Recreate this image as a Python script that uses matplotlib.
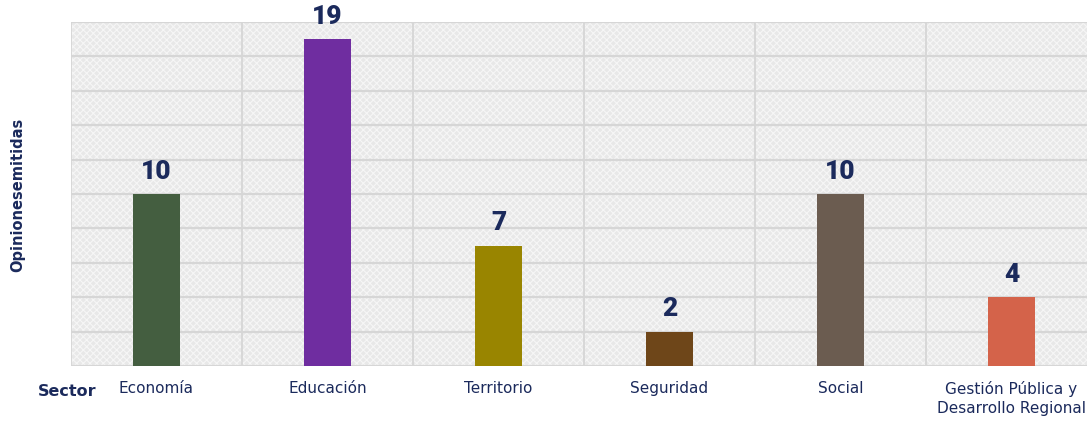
import matplotlib.pyplot as plt
from matplotlib.patches import Rectangle

sectors = ["Economía", "Educación", "Territorio", "Seguridad", "Social",
           "Gestión Pública y\nDesarrollo Regional"]
opinions = [10, 19, 7, 2, 10, 4]
bar_colors = ["#445E40", "#6F2DA0", "#998500", "#6E4619", "#6B5C50", "#D4634A"]

navy = "#1B2A5C"
plt.rcParams['hatch.linewidth'] = 0.8

fig = plt.figure(figsize=(10.87, 4.21), dpi=100)
# plot area runs past the right edge on purpose
ax = fig.add_axes([71 / 1087, 55 / 421, 1026 / 1087, 344 / 421])

x = list(range(len(sectors)))
ax.set_xlim(-0.5, len(sectors) - 0.5)
ax.set_ylim(0, 20)

# textured background
ax.set_facecolor("#E8E8E8")
ax.add_patch(Rectangle((0, 0), 1, 1, transform=ax.transAxes, facecolor="none",
                       edgecolor="#F6F6F6", hatch="xxxxx", linewidth=0, zorder=0))

for yv in range(0, 21, 2):
    ax.axhline(yv, color="#D6D6D6", linewidth=1.6, zorder=1)
for xv in range(len(sectors) + 1):
    ax.axvline(xv - 0.5, color="#D6D6D6", linewidth=1.3, zorder=1)

ax.bar(x, opinions, width=0.27, color=bar_colors, zorder=3)

for xi, v in zip(x, opinions):
    ax.text(xi, v + 0.6, str(v), ha="center", va="bottom", fontsize=19,
            fontweight="black", color=navy, family=["Roboto", "DejaVu Sans"])

ax.set_xticks(x)
ax.set_xticklabels(sectors, fontsize=11, color=navy, family="DejaVu Sans",
                   linespacing=1.35)
ax.tick_params(axis="x", length=0, pad=11)
ax.set_yticks([])
for s in ax.spines.values():
    s.set_visible(False)

fig.text(38 / 1087, 1 - 392 / 421, "Sector", fontsize=11.5, fontweight="bold",
         color=navy, va="center", ha="left", family="DejaVu Sans")
fig.text(18 / 1087, 1 - 195 / 421, "Opinionesemitidas", rotation=90, fontsize=10.5,
         fontweight="bold", color=navy, va="center", ha="center",
         family="DejaVu Sans")

fig.savefig("out.png", dpi=100)
